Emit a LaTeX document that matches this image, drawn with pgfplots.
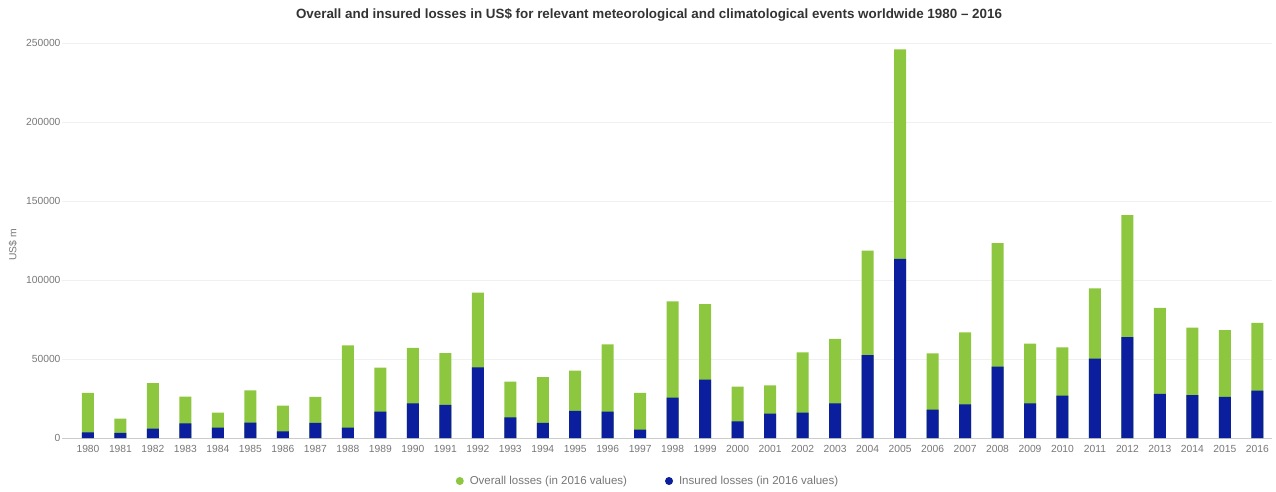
\documentclass[border=0pt]{standalone}
\usepackage{pgfplots}
\pgfplotsset{compat=1.18}
\usepackage{fontspec}
\setmainfont{Liberation Sans}
\definecolor{overall}{HTML}{8DC63F}
\definecolor{insured}{HTML}{0A1E9E}
\definecolor{ticktext}{HTML}{777777}
\definecolor{titletext}{HTML}{333333}

% year, overall losses, insured losses (US$ m, 2016 values)
\pgfplotstableread{
year overall insured
1980 28500 3600
1981 12200 3200
1982 34800 5900
1983 26200 9300
1984 16000 6500
1985 30200 9700
1986 20500 4200
1987 26000 9500
1988 58700 6500
1989 44500 16700
1990 57000 21900
1991 53800 20900
1992 92000 44700
1993 35700 13100
1994 38600 9500
1995 42600 17100
1996 59300 16700
1997 28500 5300
1998 86500 25500
1999 84800 36900
2000 32500 10500
2001 33300 15400
2002 54200 16000
2003 62700 21900
2004 118600 52500
2005 246000 113300
2006 53600 17900
2007 66900 21300
2008 123400 45200
2009 59700 21900
2010 57400 26800
2011 94700 50200
2012 141000 63900
2013 82300 27900
2014 69800 27200
2015 68200 26000
2016 72800 30000
}\losses

\begin{document}
\begin{tikzpicture}[x=1pt,y=1pt]
\path (0,0) rectangle (1276,491);
\begin{axis}[
  at={(62pt,53pt)}, anchor=south west,
  scale only axis, width=1210pt, height=395pt,
  ymin=0, ymax=250000, xmin=1979.2, xmax=2016.45,
  ybar, bar width=12pt,
  ytick={0,50000,100000,150000,200000,250000},
  scaled y ticks=false,
  xtick=data,
  /pgf/number format/fixed,
  /pgf/number format/precision=0,
  /pgf/number format/assume math mode=true,
  /pgf/number format/set thousands separator={},
  ticklabel style={font=\fontsize{10.3}{12}\selectfont, text=ticktext},
  major tick length=0pt,
  ymajorgrids, grid style={draw=black!6, line width=0.8pt},
  axis x line*=bottom, axis y line*=left,
  x axis line style={draw=black!20, line width=0.8pt, -},
  y axis line style={draw=none},
  xticklabel style={yshift=-4pt},
  yticklabel style={xshift=2pt},
  legend style={at={(0.5,0)}, anchor=center, xshift=-19pt, yshift=-43pt,
    draw=none, font=\fontsize{11.5}{13}\selectfont, text=ticktext,
    legend columns=2,
    /tikz/every odd column/.append style={column sep=4pt},
    /tikz/every even column/.append style={column sep=36pt}},
]
\addplot[fill=overall, draw=none, bar shift=0pt,
  legend image code/.code={\fill[overall] (0pt,0pt) circle (4pt);}]
  table[x=year, y=overall] {\losses};
\addlegendentry{Overall losses (in 2016 values)}
\addplot[fill=insured, draw=none, bar shift=0pt,
  legend image code/.code={\fill[insured] (0pt,0pt) circle (4pt);}]
  table[x=year, y=insured] {\losses};
\addlegendentry{Insured losses (in 2016 values)}
\end{axis}
\node[font=\bfseries\fontsize{13.4}{15}\selectfont, text=titletext] at (649,476)
  {Overall and insured losses in US\$ for relevant meteorological and climatological events worldwide 1980 – 2016};
\node[rotate=90, font=\fontsize{10.3}{12}\selectfont, text=ticktext] at (13,246) {US\$ m};
\end{tikzpicture}
\end{document}
